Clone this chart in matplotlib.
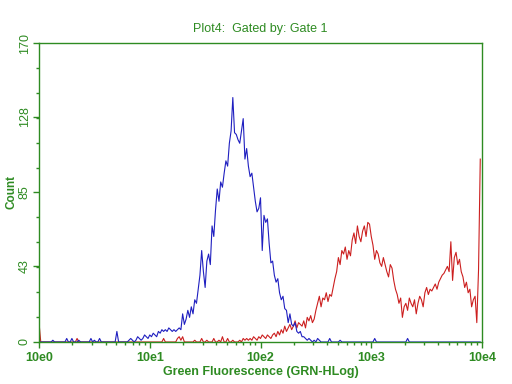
import matplotlib
matplotlib.use("Agg")
import matplotlib.pyplot as plt
import numpy as np
from matplotlib.ticker import FixedLocator, NullFormatter

plt.rcParams['font.family'] = ['Liberation Sans', 'DejaVu Sans']

GREEN = '#2e8b22'
N_CHANNELS = 256

# blue histogram: counts per channel (channels not listed are 0)
blue_channels = [8, 16, 19, 23, 30, 32, 35, 45] + list(range(52, 163)) + [168, 174, 194, 213]
blue_counts = [1, 2, 2, 1, 2, 1, 2, 6,
               1, 2, 1, 0, 1, 3, 2, 1, 2, 4, 3, 2, 4, 3, 5, 4, 3, 6, 5, 7, 6, 7,
               6, 8, 7, 6, 7, 6, 7, 8, 7, 16, 10, 13, 18, 14, 20, 16, 24, 22, 30, 38,
               52, 40, 31, 46, 50, 44, 66, 60, 75, 87, 80, 91, 88, 96, 103, 100, 113, 120, 139, 119,
               118, 115, 113, 120, 127, 104, 110, 100, 94, 96, 88, 80, 74, 76, 82, 52, 72, 68, 70, 56,
               45, 46, 38, 34, 36, 28, 24, 26, 19, 18, 11, 16, 10, 9, 11, 6, 5, 6, 3, 3,
               2, 1, 2, 1, 0, 1, 0, 2, 1,
               2, 1, 2, 2]

# red histogram: counts per channel (channels not listed are 0)
red_channels = [0, 22, 72, 80, 81, 82, 83, 90, 94, 97, 101, 104, 106, 109, 112] + list(range(116, 256))
red_counts = [11, 2, 2, 2, 3, 1, 3, 1, 2, 1, 2, 1, 3, 2, 1,
              1, 0, 2, 1, 2, 1, 2, 1, 3, 2, 1, 3, 2, 4, 3, 2, 4, 3, 2, 4,
              5, 3, 6, 4, 7, 5, 9, 6, 8, 10, 7, 9, 12, 8, 11, 10, 9, 12, 8, 14,
              12, 15, 11, 13, 18, 22, 26, 20, 25, 24, 28, 23, 27, 26, 31, 36, 40, 48, 44, 52,
              50, 54, 47, 52, 49, 58, 62, 56, 66, 60, 57, 63, 66, 60, 68, 67, 60, 55, 47, 52,
              50, 45, 43, 48, 44, 40, 37, 44, 42, 35, 30, 27, 22, 25, 14, 20, 22, 18, 25, 22,
              20, 24, 16, 22, 26, 24, 20, 28, 31, 27, 30, 29, 31, 33, 30, 34, 36, 38, 39, 41,
              43, 40, 57, 35, 48, 51, 44, 47, 40, 37, 31, 34, 28, 30, 20, 24, 26, 11, 41, 104]

x_ticks = [1, 10, 100, 1000, 10000]
x_labels = ['10e0', '10e1', '10e2', '10e3', '10e4']
y_ticks = [0, 43, 85, 128, 170]


def full_hist(channels, counts):
    h = np.zeros(N_CHANNELS)
    h[channels] = counts
    return h


chan_x = 10 ** (np.arange(N_CHANNELS) * 4.0 / N_CHANNELS)
blue = full_hist(blue_channels, blue_counts)
red = full_hist(red_channels, red_counts)

fig = plt.figure(figsize=(5.12, 3.84), dpi=100)
ax = fig.add_axes([0.0762, 0.1094, 0.8652, 0.7786])

ax.plot(chan_x, red, color='#cc1f1f', lw=0.8)
ax.plot(chan_x, blue, color='#1f1fc0', lw=0.8)

ax.set_xscale('log')
ax.set_xlim(1, 10000)
ax.set_ylim(0, 170)

ax.set_xticks(x_ticks)
ax.set_xticklabels(x_labels)
ax.xaxis.set_minor_formatter(NullFormatter())
ax.set_yticks(y_ticks)
ax.set_yticklabels([str(v) for v in y_ticks], rotation=90, va='center')
ax.yaxis.set_minor_locator(FixedLocator(np.arange(0, 171, 170 / 12.0)))

ax.tick_params(axis='both', which='major', colors=GREEN, direction='out', length=4, width=1,
               labelsize=9)
ax.tick_params(axis='y', which='major', pad=2)
ax.tick_params(axis='both', which='minor', colors=GREEN, direction='out', length=2.5, width=1)
for lbl in ax.get_xticklabels():
    lbl.set_fontweight('bold')

for s in ax.spines.values():
    s.set_color(GREEN)
    s.set_linewidth(1)

ax.set_title('Plot4:  Gated by: Gate 1', color=GREEN, fontsize=9, pad=8)
ax.set_xlabel('Green Fluorescence (GRN-HLog)', color=GREEN, fontsize=9, fontweight='bold', labelpad=1)
ax.set_ylabel('Count', color=GREEN, fontsize=8.5, fontweight='bold', labelpad=1)

fig.savefig('out.png', dpi=100)
